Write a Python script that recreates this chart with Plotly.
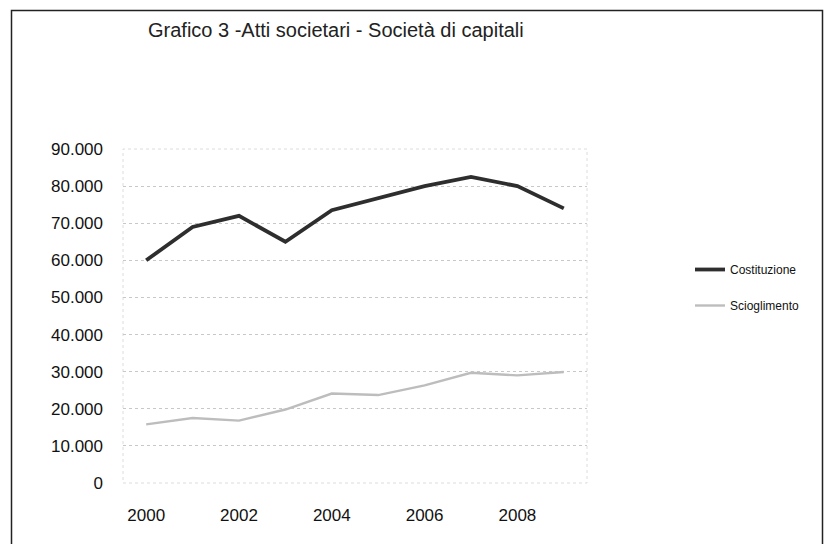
import plotly.graph_objects as go

years = [str(y) for y in range(2000, 2010)]
costituzione = [60000, 69000, 72000, 65000, 73500, 76800, 80000, 82500, 80000, 74000]
scioglimento = [15800, 17500, 16800, 19800, 24100, 23700, 26300, 29700, 29000, 29900]
tick_years = ["2000", "2002", "2004", "2006", "2008"]
y_ticks = list(range(0, 90001, 10000))

W, H = 825, 544
L, R, T, B = 123, 238, 149, 61
PW, PH = W - L - R, H - T - B

def px(x):
    return (x - L) / PW

def py(y):
    return (H - B - y) / PH

fig = go.Figure()
fig.add_trace(go.Scatter(x=years, y=costituzione, mode="lines", name="Costituzione",
                         legendgroup="c", line=dict(color="#2e2e2e", width=3.8)))
fig.add_trace(go.Scatter(x=years, y=scioglimento, mode="lines", name="Scioglimento",
                         legendgroup="s", line=dict(color="#bdbdbd", width=2.4)))

font = "Liberation Sans, Arial, sans-serif"
fig.update_layout(
    width=W, height=H,
    margin=dict(l=L, r=R, t=T, b=B),
    paper_bgcolor="white", plot_bgcolor="white",
    separators=",.",
    font=dict(family=font, color="#111111", size=17),
    title=dict(text="Grafico 3 -Atti societari - Società di capitali",
               x=148 / W, xanchor="left", y=1 - 30 / H, yanchor="middle",
               font=dict(size=20, family=font, color="#222222")),
    showlegend=True,
    legend=dict(x=px(690), y=py(255), xanchor="left", yanchor="top",
                font=dict(size=12, family=font, color="#111111"),
                tracegroupgap=17, itemwidth=30, bgcolor="rgba(0,0,0,0)"),
    xaxis=dict(type="category", range=[-0.5, 9.5], tickvals=tick_years, ticktext=tick_years,
               showgrid=False, showline=False, zeroline=False, ticks="",
               ticklabelstandoff=20, tickfont=dict(size=17)),
    yaxis=dict(range=[0, 90000], tickvals=y_ticks, tickformat=",d",
               showgrid=True, gridcolor="#c8c8c8", griddash="dot", gridwidth=1,
               zeroline=False, showline=False, ticks="", ticklabelstandoff=19,
               tickfont=dict(size=17)),
)

# faint plot-area frame
fig.add_shape(type="rect", xref="paper", yref="paper", x0=0, x1=1, y0=0, y1=1,
              line=dict(color="#dcdcdc", width=1, dash="dot"), layer="below")
# outer chart border (open at the bottom)
fig.add_shape(type="path", xref="paper", yref="paper",
              path=f"M {px(11.5)},{py(H + 5)} L {px(11.5)},{py(10.5)} "
                   f"L {px(822.5)},{py(10.5)} L {px(822.5)},{py(H + 5)}",
              line=dict(color="#222222", width=1.5))

fig.write_html("out.html", config={"displayModeBar": False},
               post_script="document.body.style.margin='0';")
